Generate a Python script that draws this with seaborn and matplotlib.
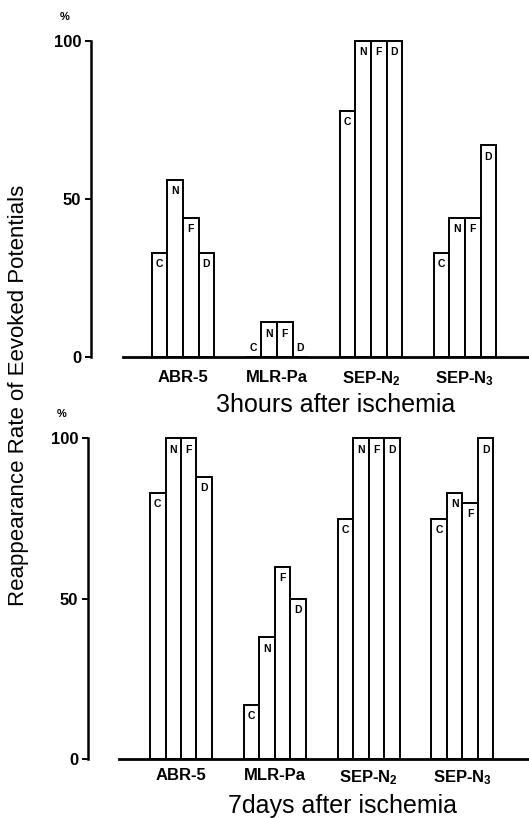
import matplotlib
matplotlib.use("Agg")
import matplotlib.pyplot as plt
import numpy as np
import pandas as pd
import seaborn as sns

# ---- data ----
potentials = ["ABR-5", "MLR-Pa", "SEP-N$_2$", "SEP-N$_3$"]
groups = ["C", "N", "F", "D"]
yticks = [0, 50, 100]

# 3 hours after ischemia (% reappearance), one list per group
h3_C = [33, 0, 78, 33]
h3_N = [56, 11, 100, 44]
h3_F = [44, 11, 100, 44]
h3_D = [33, 0, 100, 67]

# 7 days after ischemia
d7_C = [83, 17, 75, 75]
d7_N = [100, 38, 100, 83]
d7_F = [100, 60, 100, 80]
d7_D = [88, 50, 100, 100]

titles = ["3hours after ischemia", "7days after ischemia"]
ylabel = "Reappearance Rate of Eevoked Potentials"


def make_df(c, n, f, d):
    rows = []
    for g, vals in zip(groups, [c, n, f, d]):
        for p, v in zip(potentials, vals):
            rows.append({"potential": p, "group": g, "rate": v})
    return pd.DataFrame(rows)


df3 = make_df(h3_C, h3_N, h3_F, h3_D)
df7 = make_df(d7_C, d7_N, d7_F, d7_D)

sns.set_style("white")
plt.rcParams["font.family"] = ["Liberation Sans", "DejaVu Sans"]
plt.rcParams["text.color"] = "black"
plt.rcParams["xtick.color"] = "black"
plt.rcParams["ytick.color"] = "black"
plt.rcParams["axes.labelcolor"] = "black"
plt.rcParams["mathtext.fontset"] = "custom"
plt.rcParams["mathtext.rm"] = "Liberation Sans:bold"
plt.rcParams["mathtext.default"] = "rm"

W, H = 529, 818
fig = plt.figure(figsize=(W / 100, H / 100), dpi=100)

specs = [
    dict(left=123, zero=357, hundred=41, c0=183, unit=94.0, off=23, df=df3, title_y=405, title_x=336, tickpad=9),
    dict(left=119, zero=759.3, hundred=438.3, c0=181, unit=93.8, off=22.3, df=df7, title_y=806, title_x=343, tickpad=6.5),
]

ytop = 103
for i, s in enumerate(specs):
    ppu = (s["zero"] - s["hundred"]) / 100.0
    top_px = s["hundred"] - (ytop - 100) * ppu
    ax = fig.add_axes([s["left"] / W, 1 - s["zero"] / H, (W - s["left"]) / W, (s["zero"] - top_px) / H])
    sns.barplot(
        data=s["df"], x="potential", y="rate", hue="group", order=potentials, hue_order=groups,
        palette=["white"] * 4, edgecolor="black", linewidth=1.4, width=0.66, legend=False,
        ax=ax, saturation=1, errorbar=None,
    )
    ax.set_ylim(0, ytop)
    x0 = (s["left"] - s["c0"]) / s["unit"]
    ax.set_xlim(x0, x0 + (W - s["left"]) / s["unit"])
    ax.set_xlabel("")
    ax.set_ylabel("")
    ax.tick_params(axis="y", direction="out", length=4, width=1.4, pad=3, left=True, colors="black")
    ax.tick_params(axis="x", length=0, pad=s["tickpad"])
    ax.set_yticks(yticks)
    ax.set_xticks(range(len(potentials)))
    sns.despine(ax=ax, top=True, right=True, offset={"left": s["off"]})
    ax.set_yticklabels([str(t) for t in yticks], fontsize=12, fontweight="bold",
                       family=["Liberation Sans Narrow", "Liberation Sans", "DejaVu Sans"])
    ax.set_xticklabels(potentials, fontsize=12, fontweight="bold", color="black")
    ax.spines["left"].set_bounds(0, 100)
    ax.spines["left"].set_linewidth(1.8)
    ax.spines["bottom"].set_linewidth(2.0)
    ax.spines["left"].set_color("black")
    ax.spines["bottom"].set_color("black")

    # letters inside bars
    for g, cont in zip(groups, ax.containers):
        for bar in cont:
            h = bar.get_height()
            x = bar.get_x() + bar.get_width() / 2
            y = h - 3.6 if h >= 8 else h + 2.8
            ax.text(x, y, g, ha="center", va="center", fontsize=7.5, fontweight="bold", color="black")

    fig.text((s["left"] - s["off"] * 1.389 - 31) / W, 1 - (s["hundred"] - 24) / H, "%",
             fontsize=8, ha="left", va="center", fontweight="bold")
    fig.text(s["title_x"] / W, 1 - s["title_y"] / H, titles[i], fontsize=18, ha="center", va="center")

fig.text(19 / W, 1 - 395 / H, ylabel, rotation=90, fontsize=16, ha="center", va="center")

fig.savefig("out.png", dpi=100)
